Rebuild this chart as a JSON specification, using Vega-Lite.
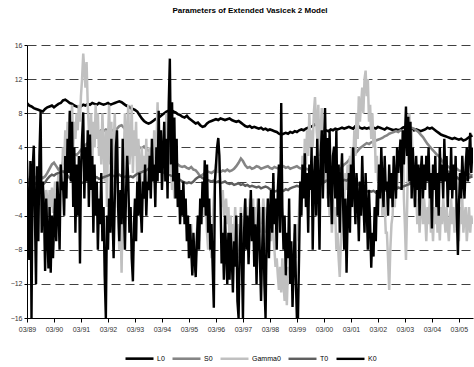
{
"$schema": "https://vega.github.io/schema/vega-lite/v6.json",
"width": 446, "height": 273,
"autosize": {"type": "none"},
"padding": {"left": 27, "top": 45, "right": 1, "bottom": 49},
"background": "white",
"title": {"text": "Parameters of Extended Vasicek 2 Model", "fontSize": 8, "font": "Liberation Sans", "fontWeight": "bold", "color": "#000000", "frame": "group", "anchor": "middle", "offset": 26},
"config": {"view": {"stroke": null}, "font": "Liberation Sans"},
"data": {"values": [
{"d":"1989-03-01","L0":9.2,"S0":0.3,"Gamma0":0.5,"T0":0,"K0":2.5},{"d":"1989-03-16","Gamma0":-1,"K0":-3},
{"d":"1989-04-01","L0":8.9,"S0":0.1,"Gamma0":-2,"T0":-0.2,"K0":-9.2},{"d":"1989-04-16","Gamma0":0,"K0":2.4},
{"d":"1989-05-01","L0":8.8,"S0":0.4,"Gamma0":-3,"T0":-0.3,"K0":-16},{"d":"1989-05-16","Gamma0":-1,"K0":1.5},
{"d":"1989-06-01","L0":8.6,"S0":0.2,"Gamma0":1,"T0":-0.1,"K0":4.2},{"d":"1989-06-16","Gamma0":-2,"K0":-4},
{"d":"1989-07-01","L0":8.5,"S0":0.5,"Gamma0":-4,"T0":-0.3,"K0":-12},{"d":"1989-07-16","Gamma0":0,"K0":1.8},
{"d":"1989-08-01","L0":8.4,"S0":0.3,"Gamma0":-2,"T0":-0.4,"K0":-7},{"d":"1989-08-16","Gamma0":1,"K0":3},
{"d":"1989-09-01","L0":8.3,"S0":0.6,"Gamma0":0,"T0":-0.2,"K0":8.2},{"d":"1989-09-16","Gamma0":-2,"K0":-6},
{"d":"1989-10-01","L0":8.2,"S0":0.4,"Gamma0":-1,"T0":-0.4,"K0":0},{"d":"1989-10-16","Gamma0":-3,"K0":-3},
{"d":"1989-11-01","L0":8.5,"S0":0.6,"Gamma0":-4,"T0":-0.1,"K0":-10.5},{"d":"1989-11-16","Gamma0":-1,"K0":-2},
{"d":"1989-12-01","L0":8.7,"S0":1.0,"Gamma0":-2,"T0":0.3,"K0":-6},{"d":"1989-12-16","Gamma0":-4,"K0":-10.2},
{"d":"1990-01-01","L0":8.8,"S0":1.5,"Gamma0":-1,"T0":0.6,"K0":-3},{"d":"1990-01-16","Gamma0":-3,"K0":-10.7},
{"d":"1990-02-01","L0":8.9,"S0":2.0,"Gamma0":-0.7,"T0":0.8,"K0":-4},{"d":"1990-02-16","Gamma0":-3.7,"K0":-9},
{"d":"1990-03-01","L0":8.7,"S0":2.2,"Gamma0":-2,"T0":0.7,"K0":-5.5},{"d":"1990-03-16","Gamma0":0,"K0":-2},
{"d":"1990-04-01","L0":8.9,"S0":1.8,"Gamma0":-4,"T0":0.9,"K0":-7},{"d":"1990-04-16","Gamma0":-1,"K0":0},
{"d":"1990-05-01","L0":9.1,"S0":1.4,"Gamma0":1,"T0":1.0,"K0":-3},{"d":"1990-05-16","Gamma0":-2,"K0":-8},
{"d":"1990-06-01","L0":9.2,"S0":1.6,"Gamma0":2,"T0":1.1,"K0":2},{"d":"1990-06-16","Gamma0":0,"K0":-1},
{"d":"1990-07-01","L0":9.5,"S0":2.3,"Gamma0":4,"T0":1.2,"K0":0},{"d":"1990-07-16","Gamma0":2,"K0":-4},
{"d":"1990-08-01","L0":9.6,"S0":2.6,"Gamma0":6,"T0":1.0,"K0":3},{"d":"1990-08-16","Gamma0":3,"K0":-2},
{"d":"1990-09-01","L0":9.4,"S0":2.9,"Gamma0":7,"T0":0.7,"K0":5},{"d":"1990-09-16","Gamma0":5,"K0":1},
{"d":"1990-10-01","L0":9.2,"S0":2.7,"Gamma0":8,"T0":0.4,"K0":8.3},{"d":"1990-10-16","Gamma0":6,"K0":0},
{"d":"1990-11-01","L0":9.1,"S0":3.0,"Gamma0":9,"T0":0.1,"K0":7},{"d":"1990-11-16","Gamma0":4,"K0":-3},
{"d":"1990-12-01","L0":8.9,"S0":3.2,"Gamma0":7,"T0":-0.2,"K0":4},{"d":"1990-12-16","Gamma0":5,"K0":-6},
{"d":"1991-01-01","L0":8.8,"S0":3.1,"Gamma0":8,"T0":-0.3,"K0":2},{"d":"1991-01-16","Gamma0":6,"K0":-4},
{"d":"1991-02-01","L0":8.7,"S0":3.4,"Gamma0":9,"T0":-0.4,"K0":3},{"d":"1991-02-16","Gamma0":7,"K0":-9.6},
{"d":"1991-03-01","L0":8.8,"S0":3.7,"Gamma0":10,"T0":-0.2,"K0":1},{"d":"1991-03-16","Gamma0":12,"K0":5},
{"d":"1991-04-01","L0":9.0,"S0":4.0,"Gamma0":15,"T0":-0.1,"K0":8.1},{"d":"1991-04-16","Gamma0":13,"K0":-2},
{"d":"1991-05-01","L0":8.9,"S0":4.3,"Gamma0":11,"T0":0.1,"K0":4},{"d":"1991-05-16","Gamma0":14,"K0":0},
{"d":"1991-06-01","L0":9.1,"S0":4.5,"Gamma0":9,"T0":0.2,"K0":6},{"d":"1991-06-16","Gamma0":6,"K0":-3},
{"d":"1991-07-01","L0":9.0,"S0":4.8,"Gamma0":3,"T0":0.0,"K0":5.5},{"d":"1991-07-16","Gamma0":8,"K0":-1},
{"d":"1991-08-01","L0":9.2,"S0":5.1,"Gamma0":2,"T0":0.3,"K0":3},{"d":"1991-08-16","Gamma0":7,"K0":-6},
{"d":"1991-09-01","L0":9.1,"S0":5.4,"Gamma0":4,"T0":0.4,"K0":2},{"d":"1991-09-16","Gamma0":9,"K0":-4},
{"d":"1991-10-01","L0":9.0,"S0":5.7,"Gamma0":5,"T0":0.5,"K0":0},{"d":"1991-10-16","Gamma0":8,"K0":-8},
{"d":"1991-11-01","L0":9.2,"S0":5.8,"Gamma0":3,"T0":0.3,"K0":-2},{"d":"1991-11-16","Gamma0":6,"K0":-5},
{"d":"1991-12-01","L0":9.1,"S0":6.0,"Gamma0":2,"T0":0.4,"K0":1},{"d":"1991-12-16","Gamma0":8,"K0":-7},
{"d":"1992-01-01","L0":9.0,"S0":5.9,"Gamma0":4,"T0":0.5,"K0":-3},{"d":"1992-01-16","Gamma0":0,"K0":-11},
{"d":"1992-02-01","L0":9.1,"S0":6.1,"Gamma0":6,"T0":0.6,"K0":-16},{"d":"1992-02-16","Gamma0":-3,"K0":-4},
{"d":"1992-03-01","L0":9.2,"S0":6.0,"Gamma0":5,"T0":0.7,"K0":-8},{"d":"1992-03-16","Gamma0":9,"K0":-2},
{"d":"1992-04-01","L0":9.0,"S0":5.8,"Gamma0":2,"T0":0.8,"K0":-6},{"d":"1992-04-16","Gamma0":7,"K0":5},
{"d":"1992-05-01","L0":9.1,"S0":6.0,"Gamma0":-1,"T0":0.7,"K0":-4},{"d":"1992-05-16","Gamma0":4,"K0":-9},
{"d":"1992-06-01","L0":9.2,"S0":5.9,"Gamma0":8,"T0":0.6,"K0":-2},{"d":"1992-06-16","Gamma0":1,"K0":4},
{"d":"1992-07-01","L0":9.3,"S0":6.2,"Gamma0":5,"T0":0.7,"K0":6},{"d":"1992-07-16","Gamma0":-4,"K0":-3},
{"d":"1992-08-01","L0":9.4,"S0":6.5,"Gamma0":-8,"T0":0.8,"K0":-7},{"d":"1992-08-16","Gamma0":-4,"K0":-1},
{"d":"1992-09-01","L0":9.3,"S0":6.6,"Gamma0":-10.7,"T0":0.6,"K0":-5},{"d":"1992-09-16","Gamma0":-2,"K0":5},
{"d":"1992-10-01","L0":9.1,"S0":6.3,"Gamma0":3,"T0":0.5,"K0":-3},{"d":"1992-10-16","Gamma0":8,"K0":-8},
{"d":"1992-11-01","L0":8.9,"S0":6.0,"Gamma0":0,"T0":0.6,"K0":-1},{"d":"1992-11-16","Gamma0":6,"K0":3},
{"d":"1992-12-01","L0":8.8,"S0":5.6,"Gamma0":9,"T0":0.5,"K0":0},{"d":"1992-12-16","Gamma0":2,"K0":-6},
{"d":"1993-01-01","L0":8.6,"S0":5.1,"Gamma0":4,"T0":0.6,"K0":-3},{"d":"1993-01-16","Gamma0":9,"K0":-9},
{"d":"1993-02-01","L0":8.5,"S0":4.8,"Gamma0":1,"T0":0.5,"K0":-11.7},{"d":"1993-02-16","Gamma0":6,"K0":-5},
{"d":"1993-03-01","L0":8.4,"S0":4.6,"Gamma0":3,"T0":0.7,"K0":-2},{"d":"1993-03-16","Gamma0":7,"K0":-7},
{"d":"1993-04-01","L0":8.2,"S0":4.3,"Gamma0":0,"T0":0.9,"K0":0},{"d":"1993-04-16","Gamma0":5,"K0":-4},
{"d":"1993-05-01","L0":7.8,"S0":4.0,"Gamma0":2,"T0":1.0,"K0":1},{"d":"1993-05-16","Gamma0":-2,"K0":-3},
{"d":"1993-06-01","L0":7.4,"S0":3.9,"Gamma0":4,"T0":1.1,"K0":-6},{"d":"1993-06-16","Gamma0":1,"K0":0},
{"d":"1993-07-01","L0":7.1,"S0":4.1,"Gamma0":3,"T0":1.2,"K0":-2},{"d":"1993-07-16","Gamma0":-1,"K0":2},
{"d":"1993-08-01","L0":6.9,"S0":3.8,"Gamma0":5,"T0":1.3,"K0":-4},{"d":"1993-08-16","Gamma0":0,"K0":0},
{"d":"1993-09-01","L0":6.8,"S0":3.6,"Gamma0":2,"T0":1.5,"K0":-1},{"d":"1993-09-16","Gamma0":4,"K0":3},
{"d":"1993-10-01","L0":6.9,"S0":3.5,"Gamma0":-2,"T0":1.6,"K0":-2},{"d":"1993-10-16","Gamma0":3,"K0":5},
{"d":"1993-11-01","L0":7.1,"S0":3.6,"Gamma0":1,"T0":1.5,"K0":0},{"d":"1993-11-16","Gamma0":6,"K0":2},
{"d":"1993-12-01","L0":7.3,"S0":3.4,"Gamma0":2,"T0":1.4,"K0":-3},{"d":"1993-12-16","Gamma0":4,"K0":4},
{"d":"1994-01-01","L0":7.4,"S0":3.3,"Gamma0":9.3,"T0":1.3,"K0":0},{"d":"1994-01-16","Gamma0":3,"K0":8.3},
{"d":"1994-02-01","L0":7.6,"S0":3.4,"Gamma0":6,"T0":1.2,"K0":1},{"d":"1994-02-16","Gamma0":1,"K0":6},
{"d":"1994-03-01","L0":7.8,"S0":3.3,"Gamma0":4,"T0":1.1,"K0":-1},{"d":"1994-03-16","Gamma0":0,"K0":3},
{"d":"1994-04-01","L0":8.0,"S0":3.2,"Gamma0":5,"T0":1.0,"K0":7},{"d":"1994-04-16","Gamma0":2,"K0":0},
{"d":"1994-05-01","L0":8.2,"S0":3.4,"Gamma0":8,"T0":0.9,"K0":5},{"d":"1994-05-16","Gamma0":3,"K0":-2},
{"d":"1994-06-01","L0":8.3,"S0":3.0,"Gamma0":6,"T0":0.8,"K0":9.3},{"d":"1994-06-16","Gamma0":1,"K0":14.4},
{"d":"1994-07-01","L0":8.4,"S0":2.7,"Gamma0":2,"T0":0.7,"K0":2},{"d":"1994-07-16","Gamma0":-1,"K0":9.3},
{"d":"1994-08-01","L0":8.2,"S0":2.5,"Gamma0":1,"T0":0.6,"K0":0},{"d":"1994-08-16","Gamma0":-2,"K0":7.5},
{"d":"1994-09-01","L0":8.1,"S0":2.3,"Gamma0":0,"T0":0.5,"K0":-2},{"d":"1994-09-16","Gamma0":-1,"K0":5},
{"d":"1994-10-01","L0":7.9,"S0":2.0,"Gamma0":1,"T0":0.3,"K0":-3},{"d":"1994-10-16","Gamma0":-2,"K0":1},
{"d":"1994-11-01","L0":7.8,"S0":1.8,"Gamma0":-1,"T0":0.2,"K0":-5},{"d":"1994-11-16","Gamma0":-3,"K0":-1},
{"d":"1994-12-01","L0":7.6,"S0":1.7,"Gamma0":-1,"T0":0.0,"K0":-4},{"d":"1994-12-16","Gamma0":-4,"K0":0},
{"d":"1995-01-01","L0":7.5,"S0":1.8,"Gamma0":-3,"T0":-0.1,"K0":-5},{"d":"1995-01-16","Gamma0":-5,"K0":-2},
{"d":"1995-02-01","L0":7.7,"S0":1.6,"Gamma0":-4,"T0":-0.2,"K0":-7},{"d":"1995-02-16","Gamma0":-7,"K0":-4},
{"d":"1995-03-01","L0":7.4,"S0":1.5,"Gamma0":-6,"T0":-0.1,"K0":-9},{"d":"1995-03-16","Gamma0":-8,"K0":-5},
{"d":"1995-04-01","L0":7.2,"S0":1.7,"Gamma0":-5,"T0":-0.2,"K0":-8},{"d":"1995-04-16","Gamma0":-9,"K0":-11},
{"d":"1995-05-01","L0":7.0,"S0":1.4,"Gamma0":-10.7,"T0":0.0,"K0":-6},{"d":"1995-05-16","Gamma0":-7,"K0":-9},
{"d":"1995-06-01","L0":6.8,"S0":1.3,"Gamma0":-9,"T0":0.3,"K0":-11.2},{"d":"1995-06-16","Gamma0":-6,"K0":-7},
{"d":"1995-07-01","L0":6.9,"S0":1.0,"Gamma0":-4,"T0":0.5,"K0":-4},{"d":"1995-07-16","Gamma0":-7,"K0":-8},
{"d":"1995-08-01","L0":6.6,"S0":0.6,"Gamma0":-3,"T0":0.6,"K0":-2},{"d":"1995-08-16","Gamma0":-5,"K0":-5},
{"d":"1995-09-01","L0":6.4,"S0":0.8,"Gamma0":-1,"T0":0.4,"K0":0},{"d":"1995-09-16","Gamma0":-4,"K0":-3},
{"d":"1995-10-01","L0":6.5,"S0":1.0,"Gamma0":0,"T0":0.3,"K0":2.5},{"d":"1995-10-16","Gamma0":-3,"K0":-4},
{"d":"1995-11-01","L0":6.8,"S0":1.2,"Gamma0":-6,"T0":0.2,"K0":2},{"d":"1995-11-16","Gamma0":-8,"K0":-6},
{"d":"1995-12-01","L0":7.0,"S0":1.1,"Gamma0":-4,"T0":0.1,"K0":-2},{"d":"1995-12-16","Gamma0":-7,"K0":-8},
{"d":"1996-01-01","L0":7.1,"S0":1.0,"Gamma0":-9,"T0":0.0,"K0":-5},{"d":"1996-01-16","Gamma0":-5,"K0":-10},
{"d":"1996-02-01","L0":7.2,"S0":1.2,"Gamma0":-2,"T0":0.1,"K0":-14.8},{"d":"1996-02-16","Gamma0":0,"K0":0},
{"d":"1996-03-01","L0":7.3,"S0":1.4,"Gamma0":2,"T0":-0.1,"K0":2},{"d":"1996-03-16","Gamma0":1,"K0":4},
{"d":"1996-04-01","L0":7.2,"S0":1.2,"Gamma0":5,"T0":0.0,"K0":5.1},{"d":"1996-04-16","Gamma0":2,"K0":3},
{"d":"1996-05-01","L0":7.4,"S0":1.1,"Gamma0":0,"T0":-0.2,"K0":-2},{"d":"1996-05-16","Gamma0":-3,"K0":-9.6},
{"d":"1996-06-01","L0":7.3,"S0":1.3,"Gamma0":-1,"T0":-0.1,"K0":-6},{"d":"1996-06-16","Gamma0":-4,"K0":-11.5},
{"d":"1996-07-01","L0":7.2,"S0":1.2,"Gamma0":-3,"T0":0.0,"K0":-4},{"d":"1996-07-16","Gamma0":-2,"K0":-8},
{"d":"1996-08-01","L0":7.3,"S0":1.4,"Gamma0":-5,"T0":-0.2,"K0":-12},{"d":"1996-08-16","Gamma0":-3,"K0":-6},
{"d":"1996-09-01","L0":7.4,"S0":1.2,"Gamma0":-6.9,"T0":-0.3,"K0":-11.5},{"d":"1996-09-16","Gamma0":-4,"K0":-6},
{"d":"1996-10-01","L0":7.2,"S0":1.3,"Gamma0":-8.8,"T0":-0.2,"K0":-9},{"d":"1996-10-16","Gamma0":-5,"K0":-13},
{"d":"1996-11-01","L0":7.1,"S0":1.5,"Gamma0":-7,"T0":-0.4,"K0":-7},{"d":"1996-11-16","Gamma0":-3,"K0":-10},
{"d":"1996-12-01","L0":7.0,"S0":1.8,"Gamma0":-6,"T0":-0.3,"K0":-4},{"d":"1996-12-16","Gamma0":-9,"K0":-14},
{"d":"1997-01-01","L0":7.1,"S0":2.2,"Gamma0":-5,"T0":-0.2,"K0":-16},{"d":"1997-01-16","Gamma0":-8,"K0":-8},
{"d":"1997-02-01","L0":6.9,"S0":2.7,"Gamma0":-3,"T0":-0.4,"K0":-3.7},{"d":"1997-02-16","Gamma0":-6,"K0":-10},
{"d":"1997-03-01","L0":6.7,"S0":2.4,"Gamma0":-9,"T0":-0.3,"K0":-16},{"d":"1997-03-16","Gamma0":-4,"K0":-6},
{"d":"1997-04-01","L0":6.5,"S0":1.9,"Gamma0":-2,"T0":-0.5,"K0":-2},{"d":"1997-04-16","Gamma0":-6,"K0":-8},
{"d":"1997-05-01","L0":6.4,"S0":1.6,"Gamma0":-3,"T0":-0.4,"K0":-4},{"d":"1997-05-16","Gamma0":-7,"K0":-9.7},
{"d":"1997-06-01","L0":6.5,"S0":1.7,"Gamma0":-2,"T0":-0.6,"K0":-5},{"d":"1997-06-16","Gamma0":-5,"K0":-1},
{"d":"1997-07-01","L0":6.3,"S0":1.5,"Gamma0":-4,"T0":-0.5,"K0":-7},{"d":"1997-07-16","Gamma0":-2,"K0":-3},
{"d":"1997-08-01","L0":6.4,"S0":1.6,"Gamma0":-6,"T0":-0.6,"K0":-10},{"d":"1997-08-16","Gamma0":-3,"K0":-5},
{"d":"1997-09-01","L0":6.3,"S0":1.8,"Gamma0":-5,"T0":-0.7,"K0":-12},{"d":"1997-09-16","Gamma0":-2,"K0":-6},
{"d":"1997-10-01","L0":6.2,"S0":1.7,"Gamma0":-4,"T0":-0.6,"K0":-2},{"d":"1997-10-16","Gamma0":-6,"K0":-9},
{"d":"1997-11-01","L0":6.3,"S0":1.5,"Gamma0":-3,"T0":-0.8,"K0":-14},{"d":"1997-11-16","Gamma0":-5,"K0":-8},
{"d":"1997-12-01","L0":6.1,"S0":1.6,"Gamma0":-2,"T0":-0.7,"K0":-3},{"d":"1997-12-16","Gamma0":-4,"K0":-12},
{"d":"1998-01-01","L0":6.2,"S0":1.7,"Gamma0":-6,"T0":-0.6,"K0":-16},{"d":"1998-01-16","Gamma0":-3,"K0":-6},
{"d":"1998-02-01","L0":6.0,"S0":1.8,"Gamma0":-5,"T0":-0.7,"K0":-2},{"d":"1998-02-16","Gamma0":-2,"K0":-9},
{"d":"1998-03-01","L0":6.1,"S0":1.6,"Gamma0":-4,"T0":-0.9,"K0":-4},{"d":"1998-03-16","Gamma0":-7,"K0":-1},
{"d":"1998-04-01","L0":6.0,"S0":1.5,"Gamma0":-3,"T0":-1.0,"K0":-6},{"d":"1998-04-16","Gamma0":-6,"K0":1},
{"d":"1998-05-01","L0":5.9,"S0":1.7,"Gamma0":-8,"T0":-1.2,"K0":-5},{"d":"1998-05-16","Gamma0":-10,"K0":-2},
{"d":"1998-06-01","L0":5.8,"S0":1.6,"Gamma0":-9,"T0":-1.1,"K0":-8},{"d":"1998-06-16","Gamma0":-11,"K0":-1},
{"d":"1998-07-01","L0":5.6,"S0":1.5,"Gamma0":-12.7,"T0":-1.2,"K0":2},{"d":"1998-07-16","Gamma0":-10,"K0":-6},
{"d":"1998-08-01","L0":5.5,"S0":1.7,"Gamma0":-13,"T0":-1.0,"K0":9.2},{"d":"1998-08-16","Gamma0":-9,"K0":-3},
{"d":"1998-09-01","L0":5.6,"S0":1.8,"Gamma0":-12,"T0":-1.1,"K0":-8},{"d":"1998-09-16","Gamma0":-14,"K0":-4},
{"d":"1998-10-01","L0":5.7,"S0":1.6,"Gamma0":-11,"T0":-0.9,"K0":-11},{"d":"1998-10-16","Gamma0":-14.5,"K0":-6},
{"d":"1998-11-01","L0":5.6,"S0":1.7,"Gamma0":-10,"T0":-1.0,"K0":-9},{"d":"1998-11-16","Gamma0":-12,"K0":-2},
{"d":"1998-12-01","L0":5.8,"S0":1.5,"Gamma0":-9,"T0":-0.8,"K0":-12},{"d":"1998-12-16","Gamma0":-11,"K0":-7},
{"d":"1999-01-01","L0":5.7,"S0":1.6,"Gamma0":-8,"T0":-0.7,"K0":-14.7},{"d":"1999-01-16","Gamma0":-10,"K0":-10},
{"d":"1999-02-01","L0":5.9,"S0":1.7,"Gamma0":-6,"T0":-0.6,"K0":-5},{"d":"1999-02-16","Gamma0":-9,"K0":-12},
{"d":"1999-03-01","L0":5.8,"S0":1.8,"Gamma0":-5,"T0":-0.5,"K0":-16},{"d":"1999-03-16","Gamma0":-7,"K0":-16},
{"d":"1999-04-01","L0":6.0,"S0":1.6,"Gamma0":-3,"T0":-0.6,"K0":-8},{"d":"1999-04-16","Gamma0":0,"K0":0},
{"d":"1999-05-01","L0":6.1,"S0":1.5,"Gamma0":-2,"T0":-0.4,"K0":-4},{"d":"1999-05-16","Gamma0":3,"K0":2},
{"d":"1999-06-01","L0":6.0,"S0":1.6,"Gamma0":0,"T0":-0.5,"K0":-2},{"d":"1999-06-16","Gamma0":5,"K0":3.3},
{"d":"1999-07-01","L0":6.2,"S0":1.5,"Gamma0":2,"T0":-0.3,"K0":-3},{"d":"1999-07-16","Gamma0":6,"K0":1},
{"d":"1999-08-01","L0":6.3,"S0":1.4,"Gamma0":3,"T0":-0.4,"K0":-6},{"d":"1999-08-16","Gamma0":8,"K0":2},
{"d":"1999-09-01","L0":6.4,"S0":1.3,"Gamma0":4,"T0":-0.3,"K0":-1},{"d":"1999-09-16","Gamma0":6,"K0":4},
{"d":"1999-10-01","L0":6.5,"S0":1.2,"Gamma0":4,"T0":-0.2,"K0":-8},{"d":"1999-10-16","Gamma0":8,"K0":0},
{"d":"1999-11-01","L0":6.7,"S0":1.3,"Gamma0":9.9,"T0":-0.3,"K0":3},{"d":"1999-11-16","Gamma0":7,"K0":-4},
{"d":"1999-12-01","L0":6.6,"S0":1.1,"Gamma0":5,"T0":-0.1,"K0":5},{"d":"1999-12-16","Gamma0":9,"K0":0},
{"d":"2000-01-01","L0":6.3,"S0":1.0,"Gamma0":3,"T0":-0.2,"K0":-8},{"d":"2000-01-16","Gamma0":6,"K0":3},
{"d":"2000-02-01","L0":5.9,"S0":1.1,"Gamma0":8.6,"T0":0.0,"K0":6},{"d":"2000-02-16","Gamma0":2,"K0":-2},
{"d":"2000-03-01","L0":5.9,"S0":0.9,"Gamma0":5,"T0":-0.1,"K0":4},{"d":"2000-03-16","Gamma0":0,"K0":8.6},
{"d":"2000-04-01","L0":6.0,"S0":1.0,"Gamma0":3,"T0":0.1,"K0":1},{"d":"2000-04-16","Gamma0":-2,"K0":5.1},
{"d":"2000-05-01","L0":5.9,"S0":1.2,"Gamma0":1,"T0":0.0,"K0":-3},{"d":"2000-05-16","Gamma0":-4,"K0":6},
{"d":"2000-06-01","L0":6.1,"S0":1.1,"Gamma0":-1,"T0":0.2,"K0":0},{"d":"2000-06-16","Gamma0":-6,"K0":-5},
{"d":"2000-07-01","L0":6.0,"S0":0.9,"Gamma0":-2,"T0":0.1,"K0":3},{"d":"2000-07-16","Gamma0":-5,"K0":4.1},
{"d":"2000-08-01","L0":6.2,"S0":1.0,"Gamma0":-3,"T0":0.3,"K0":-2},{"d":"2000-08-16","Gamma0":-8,"K0":6},
{"d":"2000-09-01","L0":6.1,"S0":1.2,"Gamma0":-6,"T0":0.2,"K0":-4},{"d":"2000-09-16","Gamma0":-9,"K0":2},
{"d":"2000-10-01","L0":6.2,"S0":1.4,"Gamma0":-11.2,"T0":0.1,"K0":-6},{"d":"2000-10-16","Gamma0":-7,"K0":0},
{"d":"2000-11-01","L0":6.3,"S0":1.7,"Gamma0":-3,"T0":0.0,"K0":3.3},{"d":"2000-11-16","Gamma0":0,"K0":-3},
{"d":"2000-12-01","L0":6.2,"S0":2.0,"Gamma0":-2,"T0":0.2,"K0":-8},{"d":"2000-12-16","Gamma0":1,"K0":-2},
{"d":"2001-01-01","L0":6.3,"S0":2.2,"Gamma0":-1,"T0":0.1,"K0":-10.7},{"d":"2001-01-16","Gamma0":2,"K0":-4},
{"d":"2001-02-01","L0":6.4,"S0":2.5,"Gamma0":0,"T0":0.3,"K0":1},{"d":"2001-02-16","Gamma0":3,"K0":-6},
{"d":"2001-03-01","L0":6.3,"S0":2.8,"Gamma0":1,"T0":0.2,"K0":2},{"d":"2001-03-16","Gamma0":4,"K0":-3},
{"d":"2001-04-01","L0":6.2,"S0":3.0,"Gamma0":2,"T0":0.1,"K0":4},{"d":"2001-04-16","Gamma0":6,"K0":-1},
{"d":"2001-05-01","L0":6.5,"S0":3.3,"Gamma0":3,"T0":0.0,"K0":-5},{"d":"2001-05-16","Gamma0":8,"K0":1},
{"d":"2001-06-01","L0":6.6,"S0":3.6,"Gamma0":5,"T0":-0.2,"K0":-2},{"d":"2001-06-16","Gamma0":10,"K0":-7},
{"d":"2001-07-01","L0":6.3,"S0":3.9,"Gamma0":7,"T0":-0.5,"K0":0},{"d":"2001-07-16","Gamma0":9,"K0":-4},
{"d":"2001-08-01","L0":6.2,"S0":4.1,"Gamma0":11,"T0":-0.8,"K0":3},{"d":"2001-08-16","Gamma0":8,"K0":-2},
{"d":"2001-09-01","L0":6.3,"S0":4.3,"Gamma0":12,"T0":-1.0,"K0":-6},{"d":"2001-09-16","Gamma0":13,"K0":1},
{"d":"2001-10-01","L0":6.2,"S0":4.5,"Gamma0":10,"T0":-1.2,"K0":-3},{"d":"2001-10-16","Gamma0":12,"K0":-8},
{"d":"2001-11-01","L0":6.3,"S0":4.4,"Gamma0":7,"T0":-1.1,"K0":-1},{"d":"2001-11-16","Gamma0":9,"K0":-5},
{"d":"2001-12-01","L0":6.1,"S0":4.6,"Gamma0":5,"T0":-1.2,"K0":-10.1},{"d":"2001-12-16","Gamma0":8,"K0":-6},
{"d":"2002-01-01","L0":6.3,"S0":4.7,"Gamma0":4,"T0":-1.1,"K0":-8.8},{"d":"2002-01-16","Gamma0":6,"K0":-3},
{"d":"2002-02-01","L0":6.2,"S0":4.8,"Gamma0":1,"T0":-1.3,"K0":-7},{"d":"2002-02-16","Gamma0":3,"K0":-1},
{"d":"2002-03-01","L0":6.4,"S0":4.9,"Gamma0":0,"T0":-1.2,"K0":-4},{"d":"2002-03-16","Gamma0":2,"K0":2},
{"d":"2002-04-01","L0":6.3,"S0":5.0,"Gamma0":-2,"T0":-1.1,"K0":-2},{"d":"2002-04-16","Gamma0":1,"K0":4},
{"d":"2002-05-01","L0":6.2,"S0":5.1,"Gamma0":-4,"T0":-1.2,"K0":0},{"d":"2002-05-16","Gamma0":0,"K0":-3},
{"d":"2002-06-01","L0":6.1,"S0":5.3,"Gamma0":-3,"T0":-1.0,"K0":3},{"d":"2002-06-16","Gamma0":-6,"K0":-1},
{"d":"2002-07-01","L0":6.3,"S0":5.4,"Gamma0":-6,"T0":-1.1,"K0":0},{"d":"2002-07-16","Gamma0":-9,"K0":-4},
{"d":"2002-08-01","L0":6.2,"S0":5.6,"Gamma0":-12.7,"T0":-0.9,"K0":2},{"d":"2002-08-16","Gamma0":-8,"K0":-2},
{"d":"2002-09-01","L0":6.1,"S0":5.7,"Gamma0":-5,"T0":-1.0,"K0":1},{"d":"2002-09-16","Gamma0":-4,"K0":-3},
{"d":"2002-10-01","L0":6.0,"S0":5.8,"Gamma0":0,"T0":-0.8,"K0":3},{"d":"2002-10-16","Gamma0":-3,"K0":0},
{"d":"2002-11-01","L0":6.1,"S0":5.9,"Gamma0":2,"T0":-0.9,"K0":-2},{"d":"2002-11-16","Gamma0":-1,"K0":4},
{"d":"2002-12-01","L0":6.0,"S0":5.8,"Gamma0":3,"T0":-0.7,"K0":1},{"d":"2002-12-16","Gamma0":1,"K0":3},
{"d":"2003-01-01","L0":6.1,"S0":6.0,"Gamma0":5,"T0":-0.8,"K0":4.9},{"d":"2003-01-16","Gamma0":2,"K0":-1},
{"d":"2003-02-01","L0":6.3,"S0":5.9,"Gamma0":6,"T0":-0.6,"K0":6},{"d":"2003-02-16","Gamma0":-2,"K0":2},
{"d":"2003-03-01","L0":6.4,"S0":6.0,"Gamma0":-5,"T0":-0.5,"K0":5},{"d":"2003-03-16","Gamma0":-9.2,"K0":8.8},
{"d":"2003-04-01","L0":6.3,"S0":6.1,"Gamma0":-3,"T0":-0.4,"K0":3},{"d":"2003-04-16","Gamma0":4,"K0":7.6},
{"d":"2003-05-01","L0":6.2,"S0":6.2,"Gamma0":8,"T0":-0.3,"K0":0},{"d":"2003-05-16","Gamma0":5,"K0":7},
{"d":"2003-06-01","L0":6.1,"S0":6.3,"Gamma0":6,"T0":-0.2,"K0":-2},{"d":"2003-06-16","Gamma0":2,"K0":4},
{"d":"2003-07-01","L0":6.0,"S0":6.2,"Gamma0":0,"T0":-0.1,"K0":1},{"d":"2003-07-16","Gamma0":-3,"K0":-3},
{"d":"2003-08-01","L0":6.1,"S0":6.0,"Gamma0":-1,"T0":0.0,"K0":3},{"d":"2003-08-16","Gamma0":-5,"K0":-1},
{"d":"2003-09-01","L0":6.0,"S0":5.8,"Gamma0":-2,"T0":0.1,"K0":2},{"d":"2003-09-16","Gamma0":-6,"K0":-4},
{"d":"2003-10-01","L0":5.9,"S0":5.5,"Gamma0":-3,"T0":0.0,"K0":1},{"d":"2003-10-16","Gamma0":-1,"K0":3},
{"d":"2003-11-01","L0":6.0,"S0":5.2,"Gamma0":-5,"T0":0.2,"K0":-2},{"d":"2003-11-16","Gamma0":-2,"K0":2},
{"d":"2003-12-01","L0":6.1,"S0":4.8,"Gamma0":-4,"T0":0.3,"K0":-1},{"d":"2003-12-16","Gamma0":-7,"K0":3},
{"d":"2004-01-01","L0":6.3,"S0":4.4,"Gamma0":-3,"T0":0.2,"K0":0},{"d":"2004-01-16","Gamma0":-5,"K0":4},
{"d":"2004-02-01","L0":6.2,"S0":4.1,"Gamma0":-2,"T0":0.4,"K0":-2},{"d":"2004-02-16","Gamma0":-6,"K0":1},
{"d":"2004-03-01","L0":6.3,"S0":3.8,"Gamma0":-4,"T0":0.5,"K0":-5.5},{"d":"2004-03-16","Gamma0":-7,"K0":2},
{"d":"2004-04-01","L0":6.1,"S0":3.5,"Gamma0":-3,"T0":0.6,"K0":-1},{"d":"2004-04-16","Gamma0":-5,"K0":3},
{"d":"2004-05-01","L0":5.9,"S0":3.2,"Gamma0":-2,"T0":0.8,"K0":-3},{"d":"2004-05-16","Gamma0":-6,"K0":1},
{"d":"2004-06-01","L0":5.7,"S0":3.0,"Gamma0":-4,"T0":0.9,"K0":-4},{"d":"2004-06-16","Gamma0":-6.9,"K0":4},
{"d":"2004-07-01","L0":5.5,"S0":2.6,"Gamma0":-3,"T0":1.1,"K0":0},{"d":"2004-07-16","Gamma0":-5,"K0":2},
{"d":"2004-08-01","L0":5.4,"S0":2.2,"Gamma0":-2,"T0":1.2,"K0":-2},{"d":"2004-08-16","Gamma0":-4,"K0":5},
{"d":"2004-09-01","L0":5.3,"S0":2.0,"Gamma0":-6,"T0":1.3,"K0":0},{"d":"2004-09-16","Gamma0":-3,"K0":3},
{"d":"2004-10-01","L0":5.2,"S0":1.8,"Gamma0":-5,"T0":1.2,"K0":-3},{"d":"2004-10-16","Gamma0":-7,"K0":1},
{"d":"2004-11-01","L0":5.1,"S0":1.6,"Gamma0":-4,"T0":1.0,"K0":-1},{"d":"2004-11-16","Gamma0":-2,"K0":4},
{"d":"2004-12-01","L0":5.0,"S0":1.5,"Gamma0":-5,"T0":0.8,"K0":-2},{"d":"2004-12-16","Gamma0":-3,"K0":2},
{"d":"2005-01-01","L0":5.1,"S0":1.4,"Gamma0":-6,"T0":0.7,"K0":-1},{"d":"2005-01-16","Gamma0":-4,"K0":3},
{"d":"2005-02-01","L0":5.0,"S0":1.5,"Gamma0":-2,"T0":0.5,"K0":-4},{"d":"2005-02-16","Gamma0":-5,"K0":-8.6},
{"d":"2005-03-01","L0":4.9,"S0":1.3,"Gamma0":-7,"T0":0.3,"K0":-3},{"d":"2005-03-16","Gamma0":-3,"K0":1},
{"d":"2005-04-01","L0":5.0,"S0":1.2,"Gamma0":-5,"T0":0.1,"K0":-2},{"d":"2005-04-16","Gamma0":-2,"K0":3},
{"d":"2005-05-01","L0":4.8,"S0":1.1,"Gamma0":-6,"T0":0.0,"K0":0},{"d":"2005-05-16","Gamma0":-4,"K0":-2},
{"d":"2005-06-01","L0":4.9,"S0":1.0,"Gamma0":-3,"T0":0.2,"K0":2},{"d":"2005-06-16","Gamma0":-7,"K0":4},
{"d":"2005-07-01","L0":5.1,"S0":0.9,"Gamma0":-5,"T0":0.4,"K0":0},{"d":"2005-07-16","Gamma0":-3,"K0":3},
{"d":"2005-08-01","L0":5.3,"S0":0.8,"Gamma0":-6,"T0":0.5,"K0":5.7},{"d":"2005-08-16","Gamma0":-4,"K0":1},
{"d":"2005-09-01","L0":5.4,"S0":0.7,"Gamma0":-5,"T0":0.6,"K0":4}
]},
"transform": [
  {"fold": ["L0", "S0", "Gamma0", "T0", "K0"], "as": ["series", "value"]},
  {"filter": {"field": "value", "valid": true}}
],
"mark": {"type": "line", "clip": true},
"encoding": {
  "x": {"field": "d", "type": "temporal",
    "scale": {"type": "utc", "domain": [{"year": 1989, "month": 3, "date": 1, "utc": true}, {"year": 2005, "month": 9, "date": 8, "utc": true}]},
    "axis": {"title": null, "grid": false, "format": "%m/%y", "labelFontSize": 7, "labelColor": "#333333", "labelFont": "Liberation Sans",
      "domainColor": "#000000", "tickColor": "#000000", "tickSize": 4, "labelPadding": 3, "labelFlush": false, "labelOverlap": false,
      "values": [
        {"year": 1989, "month": 3, "date": 1, "utc": true}, {"year": 1990, "month": 3, "date": 1, "utc": true},
        {"year": 1991, "month": 3, "date": 1, "utc": true}, {"year": 1992, "month": 3, "date": 1, "utc": true},
        {"year": 1993, "month": 3, "date": 1, "utc": true}, {"year": 1994, "month": 3, "date": 1, "utc": true},
        {"year": 1995, "month": 3, "date": 1, "utc": true}, {"year": 1996, "month": 3, "date": 1, "utc": true},
        {"year": 1997, "month": 3, "date": 1, "utc": true}, {"year": 1998, "month": 3, "date": 1, "utc": true},
        {"year": 1999, "month": 3, "date": 1, "utc": true}, {"year": 2000, "month": 3, "date": 1, "utc": true},
        {"year": 2001, "month": 3, "date": 1, "utc": true}, {"year": 2002, "month": 3, "date": 1, "utc": true},
        {"year": 2003, "month": 3, "date": 1, "utc": true}, {"year": 2004, "month": 3, "date": 1, "utc": true},
        {"year": 2005, "month": 3, "date": 1, "utc": true}
      ]}},
  "y": {"field": "value", "type": "quantitative",
    "scale": {"domain": [-16, 16], "nice": false, "zero": false},
    "axis": {"title": null, "values": [-16, -12, -8, -4, 0, 4, 8, 12, 16], "grid": true, "gridDash": [9, 5], "gridColor": "#404040", "gridWidth": 1,
      "labelFontSize": 7, "labelColor": "#333333", "labelFont": "Liberation Sans", "domainColor": "#000000", "tickColor": "#000000", "tickSize": 3, "labelPadding": 2}},
  "color": {"field": "series", "type": "nominal",
    "scale": {"domain": ["L0", "S0", "Gamma0", "T0", "K0"], "range": ["#000000", "#858585", "#c0c0c0", "#5f5f5f", "#000000"]},
    "legend": {"title": null, "orient": "none", "legendX": 97, "legendY": 298, "direction": "horizontal", "symbolType": "stroke", "symbolSize": 784,
      "symbolStrokeWidth": 2, "labelFontSize": 7, "labelColor": "#000000", "labelFont": "Liberation Sans", "columnPadding": 2, "labelOffset": 2, "padding": 0}},
  "strokeWidth": {"field": "series", "type": "nominal",
    "scale": {"domain": ["L0", "S0", "Gamma0", "T0", "K0"], "range": [2.6, 2.4, 2.2, 2.4, 2]}, "legend": null}
}
}
